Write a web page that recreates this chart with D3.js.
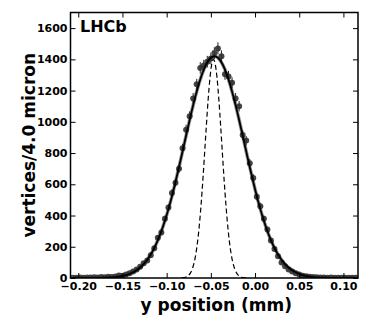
<!DOCTYPE html>
<html>
<head>
<meta charset="utf-8">
<script src="https://cdn.jsdelivr.net/npm/d3@7"></script>
<style>
  body { margin: 0; background: #fff; }
  text { font-family: "DejaVu Sans", sans-serif; font-weight: bold; }
</style>
</head>
<body>
<svg id="chart" width="373" height="317"></svg>
<script>
// bin centres (mm), 4 micron bins
const binX = d3.range(81).map(i => +(-0.206 + i * 0.004).toFixed(3));

// vertices per bin
const counts = [
    2, 1, 3, 2, 4, 3, 5, 4, 6, 5,
    8, 7, 10, 16, 14, 22, 30, 41, 55, 72,
    95, 112, 145, 190, 258, 292, 380, 452, 545, 610,
    700, 830, 950, 1035, 1150, 1240, 1345, 1360, 1385, 1405,
    1440, 1470, 1420, 1305, 1290, 1250, 1150, 1100, 915, 880,
    735, 640, 520, 460, 380, 310, 240, 185, 140, 100,
    75, 55, 42, 30, 22, 15, 11, 8, 7, 5,
    4, 3, 2, 3, 1, 2, 1, 2, 1, 1, 2
];

// fitted vertex distribution (solid curve)
const fitY = [
    0, 0, 0, 0, 0, 0, 0.5, 1, 1, 2,
    3, 4, 6, 9, 13, 19, 26, 37, 50, 67,
    89, 117, 151, 192, 242, 299, 366, 441, 524, 615,
    711, 811, 912, 1012, 1107, 1194, 1271, 1334, 1381, 1410,
    1420, 1410, 1381, 1334, 1271, 1194, 1107, 1012, 912, 811,
    711, 615, 524, 441, 366, 299, 242, 192, 151, 117,
    89, 67, 50, 37, 26, 19, 13, 9, 6, 4,
    3, 2, 1, 1, 0, 0, 0, 0, 0, 0, 0
];

// beam profile (dashed curve)
const beamX = d3.range(39).map(i => +(-0.083 + i * 0.002).toFixed(3));
const beamY = [
    1, 2, 5, 10, 18, 33, 58, 96, 153, 233,
    339, 473, 630, 805, 982, 1147, 1281, 1369, 1400, 1369,
    1281, 1147, 982, 805, 630, 473, 339, 233, 153, 96,
    58, 33, 18, 10, 5, 2, 1, 0, 0
];

const xTicks = [-0.20, -0.15, -0.10, -0.05, 0.00, 0.05, 0.10];
const yTicks = [0, 200, 400, 600, 800, 1000, 1200, 1400, 1600];

const svg = d3.select("#chart");
const mLeft = 70.5, mRight = 358, mTop = 12.5, mBottom = 278;

const x = d3.scaleLinear().domain([-0.2088, 0.1165]).range([mLeft, mRight]);
const y = d3.scaleLinear().domain([0, 1700]).range([mBottom, mTop]);

svg.append("clipPath").attr("id", "clip")
    .append("rect").attr("x", mLeft).attr("y", mTop)
    .attr("width", mRight - mLeft).attr("height", mBottom - mTop);

const body = svg.append("g").attr("clip-path", "url(#clip)");

const fitPts = binX.map((d, i) => [d, fitY[i]]);
const line = d3.line()
    .x(d => x(d[0]))
    .y(d => y(d[1]))
    .curve(d3.curveMonotoneX);

// grey band under the fit
body.append("path")
    .attr("d", line(fitPts))
    .attr("fill", "none")
    .attr("stroke", "#909090")
    .attr("stroke-width", 3.5);

// beam profile
body.append("path")
    .attr("d", line(beamX.map((d, i) => [d, beamY[i]])))
    .attr("fill", "none")
    .attr("stroke", "#000")
    .attr("stroke-width", 1.2)
    .attr("stroke-dasharray", "5,3");

// error bars
body.selectAll(".err")
    .data(counts)
    .join("line")
    .attr("class", "err")
    .attr("x1", (d, i) => x(binX[i]))
    .attr("x2", (d, i) => x(binX[i]))
    .attr("y1", d => y(d + Math.sqrt(d)))
    .attr("y2", d => y(Math.max(0, d - Math.sqrt(d))))
    .attr("stroke", "#222")
    .attr("stroke-width", 1);

// data points
body.selectAll(".pt")
    .data(counts)
    .join("circle")
    .attr("class", "pt")
    .attr("cx", (d, i) => x(binX[i]))
    .attr("cy", d => y(d))
    .attr("r", 3)
    .attr("fill", "#303030")
    .attr("fill-opacity", 0.9);

// fit
body.append("path")
    .attr("d", line(fitPts))
    .attr("fill", "none")
    .attr("stroke", "#000")
    .attr("stroke-width", 1.8);

// axes with inward ticks on all sides
const fmtX = d3.format(".2f");
const axB = d3.axisBottom(x).tickValues(xTicks).tickSizeInner(-5).tickSizeOuter(0).tickFormat(fmtX);
const axT = d3.axisTop(x).tickValues(xTicks).tickSizeInner(-5).tickSizeOuter(0).tickFormat("");
const axL = d3.axisLeft(y).tickValues(yTicks).tickSizeInner(-5).tickSizeOuter(0).tickFormat(d3.format("d"));
const axR = d3.axisRight(y).tickValues(yTicks).tickSizeInner(-5).tickSizeOuter(0).tickFormat("");

const gB = svg.append("g").attr("transform", `translate(0,${mBottom})`).call(axB);
const gT = svg.append("g").attr("transform", `translate(0,${mTop})`).call(axT);
const gL = svg.append("g").attr("transform", `translate(${mLeft},0)`).call(axL);
const gR = svg.append("g").attr("transform", `translate(${mRight},0)`).call(axR);

[gB, gT, gL, gR].forEach(g => {
    g.select(".domain").remove();
    g.selectAll("line").attr("stroke", "#000").attr("stroke-width", 1);
    g.selectAll("text").attr("fill", "#000").style("font-size", "11px")
        .style("font-family", "'DejaVu Sans', sans-serif").style("font-weight", "bold");
});
gB.selectAll("text").attr("y", 4).attr("dy", "0.72em");
gL.selectAll("text").attr("x", -3);

svg.append("rect")
    .attr("x", mLeft).attr("y", mTop)
    .attr("width", mRight - mLeft).attr("height", mBottom - mTop)
    .attr("fill", "none").attr("stroke", "#000").attr("stroke-width", 1.5);

// labels
svg.append("text")
    .attr("x", (mLeft + mRight) / 2 + 2)
    .attr("y", 311)
    .attr("text-anchor", "middle")
    .style("font-size", "17px")
    .text("y position (mm)");

svg.append("text")
    .attr("transform", `translate(35,${(mTop + mBottom) / 2}) rotate(-90)`)
    .attr("text-anchor", "middle")
    .style("font-size", "17px")
    .text("vertices/4.0 micron");

svg.append("text")
    .attr("x", 80)
    .attr("y", 32)
    .style("font-size", "16px")
    .text("LHCb");
</script>
</body>
</html>
